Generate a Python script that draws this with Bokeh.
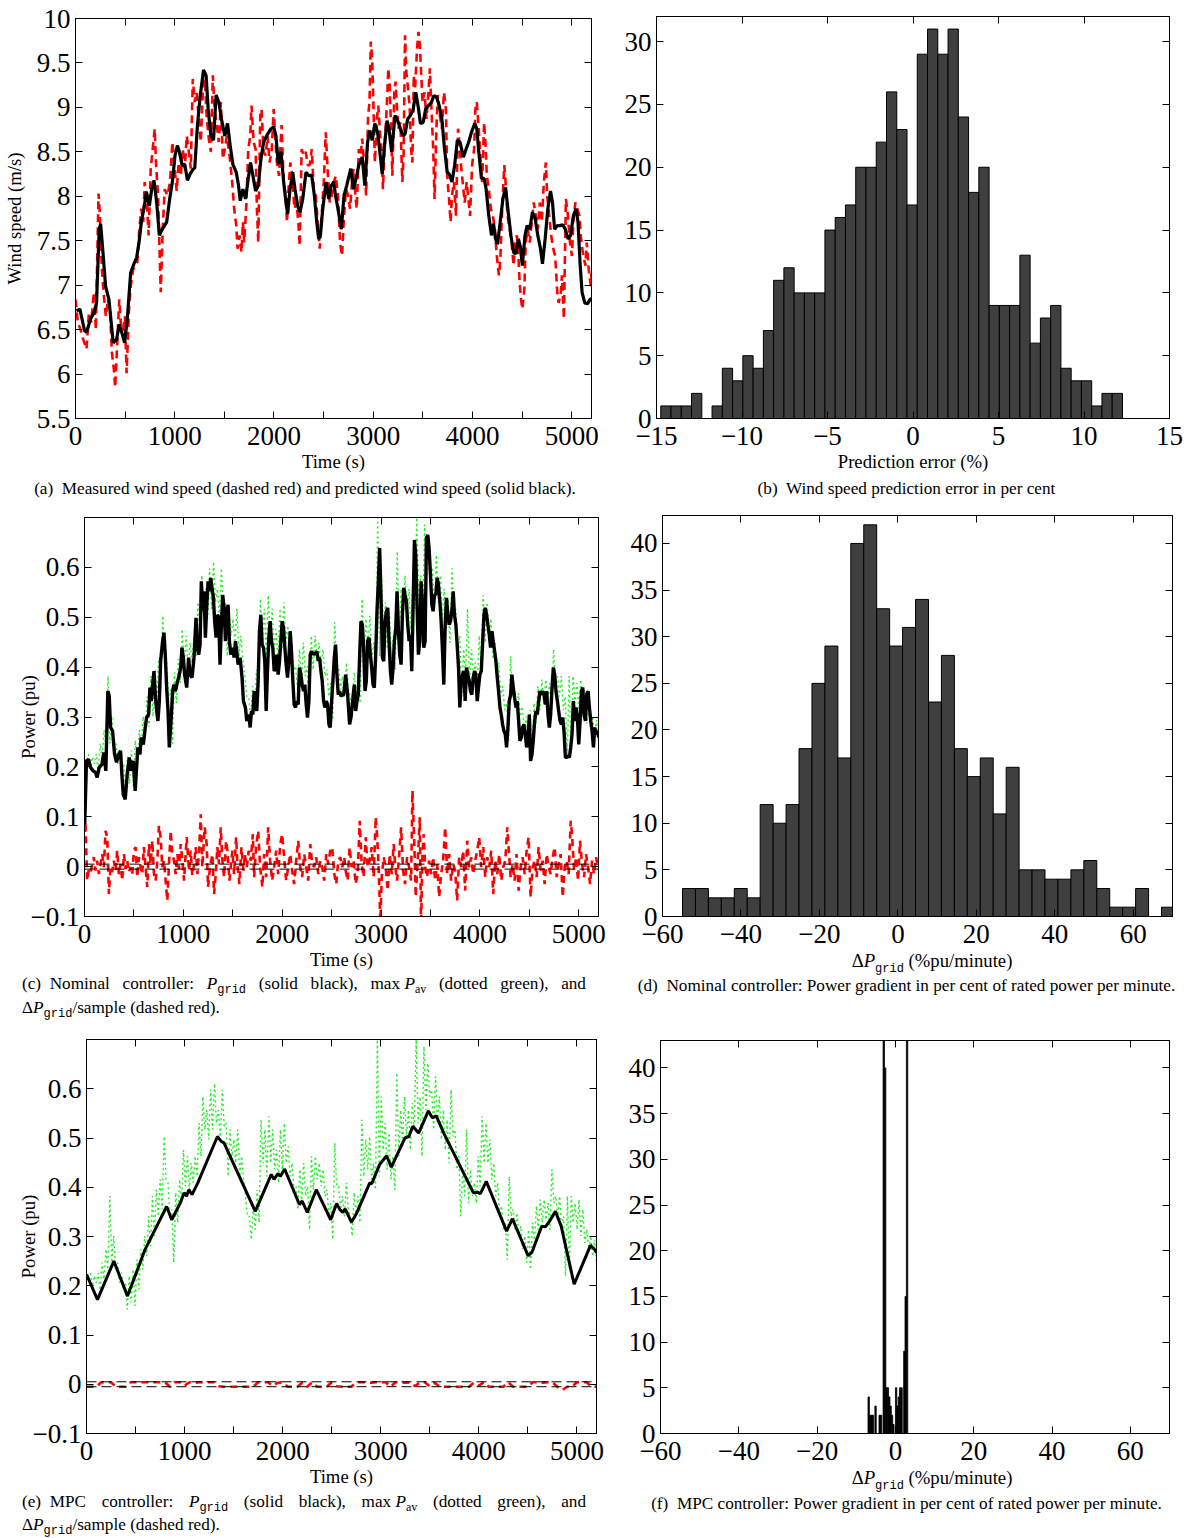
import numpy as np
from bokeh.plotting import figure
from bokeh.layouts import column, row
from bokeh.models import (FixedTicker, LinearAxis, CustomJSTickFormatter, Div, Range1d, Span)
from bokeh.embed import file_html
from bokeh.resources import INLINE

# ---------------- data ----------------
# (a) predicted wind speed (solid black): (time s, m/s)
wind_pred = [
    (10, 6.71), (44, 6.73), (91, 6.49), (111, 6.47), (152, 6.62), (192, 6.71), (212, 6.80), (239, 7.63),
    (253, 7.69), (269, 7.48), (303, 6.99), (337, 6.84), (380, 6.35), (414, 6.39), (441, 6.56), (471, 6.45),
    (495, 6.35), (522, 6.62), (556, 7.14), (589, 7.24), (616, 7.31), (640, 7.48), (667, 7.74), (690, 7.86),
    (714, 8.05), (744, 7.89), (768, 8.08), (791, 8.18), (818, 7.93), (845, 7.56), (875, 7.63), (919, 7.71),
    (949, 7.97), (976, 8.16), (1003, 8.46), (1027, 8.57), (1047, 8.50), (1074, 8.35), (1101, 8.36),
    (1128, 8.18), (1155, 8.25), (1182, 8.30), (1202, 8.32), (1229, 8.80), (1256, 9.12), (1290, 9.42),
    (1316, 9.36), (1337, 8.98), (1364, 8.68), (1391, 8.63), (1417, 9.14), (1444, 9.06), (1471, 8.87),
    (1505, 8.68), (1532, 8.82), (1559, 8.57), (1586, 8.36), (1620, 8.27), (1643, 8.12), (1660, 7.95),
    (1687, 8.08), (1714, 7.97), (1741, 8.20), (1764, 8.38), (1788, 8.23), (1815, 8.06), (1842, 8.12),
    (1869, 8.42), (1896, 8.61), (1936, 8.70), (1970, 8.76), (1997, 8.78), (2020, 8.68), (2044, 8.36),
    (2071, 8.50), (2098, 8.16), (2121, 7.93), (2138, 7.80), (2162, 8.08), (2189, 8.27), (2212, 8.08),
    (2239, 7.89), (2263, 7.82), (2290, 7.97), (2323, 8.27), (2354, 8.23), (2380, 8.24), (2407, 8.01),
    (2431, 7.71), (2451, 7.52), (2468, 7.56), (2492, 7.86), (2525, 8.16), (2552, 7.97), (2576, 8.12),
    (2603, 8.16), (2620, 8.01), (2645, 7.86), (2679, 7.63), (2706, 8.01), (2733, 8.12), (2774, 8.31),
    (2801, 8.08), (2828, 8.20), (2855, 8.35), (2889, 8.44), (2916, 8.12), (2943, 8.61), (2966, 8.74),
    (2990, 8.63), (3017, 8.82), (3044, 8.72), (3071, 8.46), (3091, 8.25), (3111, 8.53), (3139, 8.85),
    (3159, 8.76), (3186, 8.50), (3220, 8.91), (3247, 8.85), (3274, 8.76), (3301, 8.68), (3321, 8.70),
    (3348, 8.87), (3375, 8.91), (3402, 8.97), (3429, 9.17), (3456, 8.99), (3476, 8.82), (3503, 8.83),
    (3530, 8.99), (3557, 9.02), (3584, 9.05), (3611, 9.13), (3638, 9.12), (3665, 9.02), (3692, 8.87),
    (3719, 8.53), (3746, 8.27), (3767, 8.25), (3794, 8.16), (3821, 8.35), (3848, 8.63), (3875, 8.61),
    (3909, 8.44), (3936, 8.53), (3963, 8.61), (3990, 8.72), (4024, 8.82), (4044, 8.76), (4064, 8.50),
    (4091, 8.20), (4118, 8.20), (4138, 8.08), (4165, 7.78), (4192, 7.56), (4213, 7.69), (4233, 7.52),
    (4253, 7.46), (4280, 7.71), (4307, 7.97), (4334, 8.10), (4361, 7.82), (4388, 7.56), (4415, 7.37),
    (4436, 7.35), (4463, 7.52), (4483, 7.43), (4503, 7.22), (4530, 7.56), (4551, 7.67), (4578, 7.63),
    (4605, 7.82), (4632, 7.75), (4659, 7.56), (4686, 7.41), (4706, 7.24), (4733, 7.52), (4760, 7.86),
    (4787, 8.06), (4807, 7.93), (4828, 7.63), (4855, 7.67), (4882, 7.67), (4909, 7.68), (4936, 7.63),
    (4963, 7.52), (4990, 7.56), (5017, 7.78), (5044, 7.86), (5064, 7.71), (5084, 7.26), (5105, 6.92),
    (5132, 6.80), (5159, 6.79), (5186, 6.84), (5200, 6.85)]

# (a) measured wind speed (dashed red)
wind_meas = [
    (0, 6.84), (24, 6.58), (51, 6.50), (78, 6.39), (111, 6.28), (135, 6.69), (159, 6.58), (185, 6.92),
    (205, 6.50), (232, 8.03), (246, 7.78), (266, 7.18), (286, 6.88), (306, 6.65), (327, 6.84), (347, 6.73),
    (367, 6.24), (387, 6.05), (400, 5.85), (421, 6.35), (441, 6.84), (461, 6.50), (481, 6.50), (498, 6.65),
    (515, 6.01), (539, 6.73), (556, 6.99), (582, 7.18), (606, 7.22), (623, 7.26), (643, 7.63), (663, 7.86),
    (683, 7.71), (697, 8.16), (717, 7.97), (737, 7.56), (758, 8.31), (778, 8.53), (798, 8.76), (811, 8.38),
    (832, 8.01), (845, 7.48), (859, 6.92), (879, 7.63), (899, 8.08), (926, 8.01), (953, 8.16), (976, 8.61),
    (1000, 8.31), (1020, 8.06), (1040, 8.38), (1061, 8.23), (1081, 8.53), (1101, 8.31), (1121, 8.68),
    (1142, 8.50), (1162, 8.31), (1182, 9.32), (1202, 9.06), (1222, 9.17), (1242, 8.87), (1263, 8.61),
    (1283, 9.17), (1303, 9.32), (1323, 8.87), (1343, 8.65), (1364, 8.50), (1384, 9.36), (1404, 8.95),
    (1424, 8.80), (1444, 8.61), (1465, 9.06), (1485, 8.42), (1505, 8.53), (1525, 8.68), (1552, 8.46),
    (1579, 8.16), (1599, 7.86), (1620, 7.67), (1633, 7.41), (1653, 7.56), (1673, 7.37), (1687, 7.71),
    (1700, 7.48), (1721, 7.89), (1741, 8.53), (1761, 8.68), (1774, 9.02), (1795, 8.61), (1815, 8.53),
    (1828, 7.86), (1842, 7.48), (1862, 8.91), (1875, 8.98), (1896, 8.50), (1916, 8.46), (1936, 8.68),
    (1956, 8.38), (1976, 8.50), (1997, 8.98), (2010, 8.72), (2030, 8.38), (2051, 8.23), (2064, 8.53),
    (2077, 8.80), (2098, 8.16), (2118, 8.01), (2131, 7.71), (2145, 8.05), (2165, 8.38), (2185, 8.23),
    (2205, 7.86), (2226, 7.93), (2246, 7.71), (2259, 7.44), (2279, 8.53), (2300, 8.46), (2320, 8.50),
    (2340, 8.35), (2360, 8.35), (2381, 8.53), (2401, 8.08), (2421, 8.01), (2441, 7.71), (2461, 7.41),
    (2481, 7.78), (2502, 8.16), (2522, 8.72), (2542, 8.27), (2562, 7.93), (2583, 8.01), (2603, 8.16),
    (2623, 8.23), (2645, 8.01), (2666, 7.48), (2686, 7.33), (2706, 7.78), (2726, 8.08), (2747, 8.01),
    (2767, 7.86), (2787, 8.16), (2801, 8.31), (2821, 8.01), (2834, 7.86), (2855, 8.53), (2868, 8.38),
    (2889, 8.65), (2909, 8.35), (2929, 8.01), (2949, 8.91), (2963, 9.06), (2976, 9.74), (2990, 9.55),
    (3003, 8.99), (3017, 8.38), (3037, 8.87), (3051, 9.02), (3071, 8.68), (3084, 8.53), (3098, 8.08),
    (3118, 8.61), (3139, 9.06), (3152, 9.44), (3166, 9.25), (3179, 8.80), (3193, 8.23), (3213, 9.17),
    (3226, 9.29), (3240, 8.99), (3253, 8.76), (3274, 8.83), (3294, 8.16), (3307, 8.50), (3321, 9.81),
    (3334, 9.40), (3355, 9.17), (3368, 8.99), (3382, 8.53), (3395, 8.38), (3409, 9.36), (3422, 9.21),
    (3442, 9.66), (3456, 9.85), (3470, 9.70), (3483, 9.40), (3497, 9.06), (3517, 9.17), (3537, 8.87),
    (3557, 9.17), (3571, 9.44), (3584, 9.06), (3605, 8.53), (3618, 7.97), (3638, 8.80), (3652, 9.14),
    (3672, 8.91), (3692, 8.76), (3713, 9.17), (3733, 8.98), (3746, 8.23), (3767, 7.93), (3780, 7.71),
    (3794, 8.01), (3814, 8.16), (3834, 7.78), (3855, 8.76), (3868, 8.61), (3888, 8.31), (3909, 8.08),
    (3922, 7.93), (3942, 8.16), (3963, 7.93), (3976, 7.78), (3997, 8.35), (4017, 8.53), (4030, 8.98),
    (4044, 9.06), (4064, 8.76), (4084, 8.35), (4098, 8.16), (4118, 8.83), (4131, 8.61), (4145, 8.23),
    (4165, 8.08), (4186, 7.86), (4206, 7.78), (4226, 7.63), (4246, 7.33), (4267, 7.11), (4280, 7.26),
    (4300, 7.86), (4321, 8.35), (4334, 8.16), (4354, 7.78), (4375, 7.63), (4395, 7.48), (4415, 7.22),
    (4429, 7.48), (4449, 7.56), (4463, 7.33), (4476, 7.03), (4490, 6.84), (4503, 6.73), (4523, 6.95),
    (4537, 7.48), (4557, 7.63), (4578, 7.48), (4598, 7.71), (4618, 7.93), (4639, 7.78), (4659, 7.63),
    (4679, 7.93), (4699, 7.71), (4720, 8.16), (4740, 8.38), (4753, 8.01), (4774, 7.78), (4794, 7.56),
    (4814, 7.41), (4834, 7.33), (4855, 6.92), (4868, 6.80), (4888, 6.88), (4902, 7.11), (4922, 6.62),
    (4942, 7.97), (4963, 7.78), (4983, 7.48), (5003, 7.33), (5017, 7.71), (5037, 7.93), (5057, 7.86),
    (5078, 7.78), (5098, 7.48), (5118, 7.33), (5139, 7.22), (5152, 7.48), (5172, 7.18), (5193, 6.99),
    (5200, 7.14)]

# (b) prediction error histogram
err_bin_start = -14.75
err_bin_width = 0.6
err_counts = [1, 1, 1, 2, 0, 1, 4, 3, 5, 4, 7, 11, 12, 10, 10, 10, 15, 16, 17, 20, 20, 22, 26, 23, 17,
              29, 31, 29, 31, 24, 18, 20, 9, 9, 9, 13, 6, 8, 9, 4, 3, 3, 1, 2, 2]

# (c) nominal controller P_grid (solid black)
pgrid_nom = [
    (0, 0.07), (20, 0.212), (41, 0.215), (61, 0.199), (88, 0.192), (111, 0.189), (128, 0.179), (149, 0.199),
    (176, 0.205), (196, 0.229), (216, 0.192), (236, 0.352), (250, 0.342), (264, 0.279), (284, 0.272),
    (304, 0.225), (324, 0.209), (345, 0.225), (365, 0.232), (378, 0.185), (392, 0.145), (412, 0.135),
    (432, 0.185), (453, 0.219), (473, 0.192), (493, 0.212), (513, 0.152), (527, 0.199), (540, 0.239),
    (561, 0.225), (574, 0.259), (595, 0.245), (615, 0.279), (628, 0.299), (649, 0.305), (662, 0.359),
    (676, 0.332), (689, 0.365), (703, 0.392), (716, 0.345), (730, 0.312), (743, 0.292), (757, 0.332),
    (770, 0.412), (790, 0.452), (804, 0.469), (817, 0.425), (831, 0.359), (845, 0.312), (858, 0.239),
    (872, 0.279), (892, 0.352), (905, 0.365), (919, 0.352), (939, 0.369), (959, 0.385), (973, 0.399),
    (986, 0.439), (1000, 0.419), (1013, 0.385), (1034, 0.359), (1054, 0.419), (1067, 0.385), (1088, 0.379),
    (1108, 0.419), (1128, 0.499), (1142, 0.439), (1155, 0.425), (1169, 0.445), (1182, 0.572), (1196, 0.512),
    (1209, 0.552), (1223, 0.459), (1236, 0.519), (1250, 0.572), (1263, 0.552), (1277, 0.579), (1290, 0.559),
    (1304, 0.539), (1317, 0.492), (1331, 0.459), (1344, 0.505), (1358, 0.499), (1371, 0.405), (1385, 0.485),
    (1398, 0.545), (1412, 0.519), (1426, 0.452), (1439, 0.512), (1453, 0.525), (1466, 0.452), (1480, 0.425),
    (1500, 0.439), (1513, 0.419), (1527, 0.452), (1540, 0.432), (1554, 0.405), (1574, 0.419), (1594, 0.379),
    (1608, 0.332), (1628, 0.319), (1642, 0.292), (1662, 0.305), (1676, 0.279), (1689, 0.312), (1703, 0.305),
    (1716, 0.352), (1730, 0.339), (1743, 0.312), (1757, 0.372), (1770, 0.472), (1784, 0.505), (1797, 0.445),
    (1811, 0.439), (1824, 0.412), (1838, 0.312), (1851, 0.392), (1865, 0.459), (1878, 0.492), (1892, 0.452),
    (1905, 0.439), (1919, 0.392), (1932, 0.399), (1946, 0.425), (1959, 0.385), (1973, 0.412), (1986, 0.452),
    (2000, 0.492), (2013, 0.479), (2027, 0.439), (2040, 0.405), (2054, 0.379), (2067, 0.412), (2081, 0.472),
    (2094, 0.432), (2108, 0.372), (2121, 0.325), (2135, 0.319), (2148, 0.332), (2162, 0.325), (2175, 0.399),
    (2189, 0.385), (2202, 0.365), (2216, 0.352), (2229, 0.365), (2243, 0.325), (2256, 0.299), (2270, 0.332),
    (2284, 0.425), (2297, 0.432), (2311, 0.425), (2324, 0.429), (2338, 0.425), (2351, 0.432), (2365, 0.412),
    (2378, 0.419), (2392, 0.392), (2405, 0.372), (2419, 0.332), (2432, 0.319), (2446, 0.332), (2459, 0.325),
    (2473, 0.285), (2486, 0.279), (2500, 0.332), (2513, 0.372), (2527, 0.419), (2540, 0.445), (2554, 0.385),
    (2567, 0.345), (2581, 0.352), (2594, 0.342), (2622, 0.345), (2642, 0.385), (2662, 0.345), (2682, 0.285),
    (2696, 0.299), (2716, 0.339), (2730, 0.365), (2743, 0.312), (2757, 0.332), (2770, 0.345), (2784, 0.425),
    (2797, 0.492), (2811, 0.485), (2824, 0.439), (2838, 0.352), (2851, 0.372), (2865, 0.452), (2878, 0.459),
    (2892, 0.425), (2905, 0.399), (2919, 0.365), (2932, 0.359), (2946, 0.425), (2959, 0.512), (2973, 0.572),
    (2986, 0.639), (3000, 0.539), (3014, 0.419), (3027, 0.412), (3041, 0.492), (3054, 0.512), (3068, 0.519),
    (3081, 0.452), (3095, 0.392), (3108, 0.365), (3122, 0.399), (3135, 0.452), (3149, 0.479), (3162, 0.552),
    (3176, 0.472), (3189, 0.425), (3203, 0.405), (3216, 0.505), (3230, 0.559), (3243, 0.545), (3257, 0.532),
    (3270, 0.485), (3284, 0.452), (3297, 0.465), (3311, 0.392), (3324, 0.519), (3338, 0.655), (3351, 0.625),
    (3365, 0.519), (3378, 0.425), (3392, 0.452), (3405, 0.572), (3419, 0.532), (3432, 0.439), (3446, 0.452),
    (3459, 0.659), (3473, 0.665), (3486, 0.639), (3500, 0.585), (3514, 0.525), (3527, 0.512), (3541, 0.545),
    (3554, 0.545), (3568, 0.579), (3581, 0.565), (3595, 0.532), (3608, 0.492), (3622, 0.432), (3635, 0.365),
    (3649, 0.485), (3662, 0.539), (3676, 0.505), (3689, 0.485), (3703, 0.492), (3716, 0.512), (3730, 0.552),
    (3743, 0.505), (3757, 0.485), (3770, 0.445), (3784, 0.399), (3797, 0.319), (3811, 0.372), (3824, 0.385),
    (3838, 0.392), (3851, 0.332), (3865, 0.399), (3878, 0.385), (3892, 0.372), (3905, 0.352), (3919, 0.345),
    (3932, 0.379), (3946, 0.392), (3959, 0.385), (3973, 0.332), (3986, 0.359), (4000, 0.385), (4014, 0.392),
    (4027, 0.445), (4041, 0.505), (4054, 0.519), (4068, 0.505), (4081, 0.485), (4095, 0.465), (4108, 0.439),
    (4122, 0.472), (4135, 0.452), (4149, 0.432), (4162, 0.412), (4176, 0.379), (4189, 0.352), (4203, 0.319),
    (4216, 0.305), (4230, 0.285), (4243, 0.272), (4257, 0.265), (4270, 0.239), (4284, 0.279), (4297, 0.332),
    (4311, 0.345), (4324, 0.385), (4338, 0.359), (4351, 0.339), (4365, 0.319), (4378, 0.332), (4392, 0.292),
    (4405, 0.252), (4419, 0.259), (4432, 0.279), (4446, 0.285), (4459, 0.265), (4473, 0.239), (4486, 0.252),
    (4500, 0.305), (4513, 0.212), (4527, 0.225), (4540, 0.252), (4554, 0.292), (4568, 0.312), (4581, 0.305),
    (4595, 0.332), (4608, 0.352), (4622, 0.345), (4635, 0.352), (4649, 0.345), (4662, 0.325), (4676, 0.352),
    (4689, 0.305), (4703, 0.279), (4716, 0.305), (4730, 0.359), (4743, 0.399), (4757, 0.385), (4770, 0.352),
    (4784, 0.332), (4797, 0.312), (4811, 0.292), (4824, 0.285), (4838, 0.299), (4851, 0.272), (4865, 0.219),
    (4878, 0.219), (4892, 0.222), (4905, 0.219), (4919, 0.239), (4932, 0.265), (4946, 0.332), (4959, 0.292),
    (4973, 0.319), (4986, 0.299), (5000, 0.245), (5014, 0.292), (5027, 0.352), (5041, 0.359), (5054, 0.305),
    (5068, 0.292), (5081, 0.345), (5095, 0.352), (5108, 0.319), (5122, 0.292), (5135, 0.272), (5149, 0.239),
    (5162, 0.279), (5176, 0.265), (5189, 0.272), (5203, 0.259)]

# max P_av (dotted green), same in (c) and (e): successive samples, 40 s .. 5200 s
pav_max = [
    0.226, 0.199, 0.220, 0.206, 0.226, 0.186, 0.247, 0.213, 0.274, 0.233, 0.382, 0.247, 0.301, 0.233,
    0.247, 0.206, 0.226, 0.193, 0.206, 0.152, 0.220, 0.166, 0.233, 0.159, 0.253, 0.193, 0.274, 0.233,
    0.301, 0.260, 0.341, 0.280, 0.382, 0.301, 0.395, 0.341, 0.416, 0.355, 0.503, 0.416, 0.409, 0.341,
    0.355, 0.247, 0.389, 0.328, 0.416, 0.368, 0.476, 0.402, 0.463, 0.395, 0.449, 0.409, 0.463, 0.422,
    0.530, 0.463, 0.584, 0.517, 0.557, 0.497, 0.598, 0.517, 0.611, 0.530, 0.557, 0.497, 0.598, 0.524,
    0.530, 0.422, 0.517, 0.463, 0.497, 0.449, 0.517, 0.422, 0.463, 0.416, 0.382, 0.341, 0.341, 0.294,
    0.362, 0.314, 0.395, 0.328, 0.537, 0.449, 0.517, 0.422, 0.544, 0.449, 0.517, 0.436, 0.476, 0.409,
    0.517, 0.436, 0.530, 0.449, 0.483, 0.422, 0.449, 0.395, 0.402, 0.355, 0.436, 0.368, 0.449, 0.382,
    0.402, 0.314, 0.463, 0.395, 0.463, 0.416, 0.449, 0.402, 0.436, 0.382, 0.395, 0.341, 0.368, 0.294,
    0.490, 0.402, 0.402, 0.355, 0.382, 0.341, 0.409, 0.355, 0.341, 0.301, 0.389, 0.341, 0.382, 0.328,
    0.537, 0.422, 0.497, 0.436, 0.503, 0.416, 0.449, 0.395, 0.700, 0.422, 0.584, 0.476, 0.530, 0.436,
    0.510, 0.416, 0.463, 0.395, 0.632, 0.463, 0.557, 0.490, 0.584, 0.503, 0.557, 0.476, 0.571, 0.517,
    0.700, 0.530, 0.584, 0.463, 0.686, 0.557, 0.652, 0.584, 0.598, 0.517, 0.625, 0.530, 0.584, 0.497,
    0.557, 0.476, 0.537, 0.449, 0.598, 0.503, 0.517, 0.436, 0.463, 0.341, 0.436, 0.382, 0.517, 0.368,
    0.436, 0.382, 0.409, 0.368, 0.463, 0.402, 0.544, 0.449, 0.530, 0.449, 0.497, 0.416, 0.449, 0.382,
    0.409, 0.341, 0.362, 0.314, 0.328, 0.253, 0.422, 0.341, 0.355, 0.314, 0.348, 0.301, 0.321, 0.274,
    0.301, 0.247, 0.314, 0.233, 0.328, 0.287, 0.362, 0.314, 0.375, 0.328, 0.375, 0.334, 0.368, 0.314,
    0.436, 0.368, 0.382, 0.341, 0.382, 0.314, 0.341, 0.220, 0.382, 0.233, 0.382, 0.328, 0.368, 0.314,
    0.375, 0.301, 0.355, 0.287, 0.314, 0.274, 0.301, 0.260, 0.294, 0.247]

# (c) Delta P_grid per sample (dashed red)
dpgrid_nom = [
    (10, 0.085), (27, -0.028), (44, -0.005), (61, -0.011), (95, 0.019), (111, -0.008), (128, 0.012),
    (145, -0.015), (179, 0.025), (196, -0.001), (213, 0.072), (230, 0.059), (247, -0.055), (263, -0.001),
    (280, -0.011), (297, 0.012), (314, -0.008), (331, 0.032), (348, -0.015), (365, 0.005), (382, -0.028),
    (399, 0.025), (416, -0.005), (432, 0.012), (449, -0.011), (466, -0.001), (483, -0.015), (500, 0.032),
    (517, 0.039), (534, -0.021), (551, 0.019), (568, -0.001), (584, -0.015), (601, 0.039), (618, -0.001),
    (635, -0.041), (652, 0.045), (669, 0.005), (686, 0.052), (703, -0.015), (720, -0.028), (736, 0.009),
    (753, 0.082), (770, 0.059), (787, -0.001), (804, 0.012), (821, -0.028), (838, -0.068), (855, 0.005),
    (872, 0.072), (888, 0.025), (905, 0.012), (922, -0.015), (939, 0.025), (956, -0.005), (973, 0.045),
    (990, 0.012), (1007, -0.028), (1034, 0.059), (1057, -0.008), (1074, 0.032), (1091, -0.018),
    (1108, 0.005), (1125, 0.039), (1142, -0.015), (1159, 0.032), (1176, 0.105), (1192, -0.001),
    (1216, 0.079), (1236, 0.045), (1250, -0.041), (1270, -0.001), (1294, 0.025), (1311, -0.055),
    (1328, -0.015), (1344, 0.039), (1361, 0.005), (1378, 0.079), (1395, 0.012), (1412, -0.021),
    (1432, 0.052), (1446, 0.032), (1466, -0.028), (1480, -0.001), (1496, 0.032), (1513, -0.015),
    (1534, 0.059), (1547, 0.005), (1567, -0.035), (1588, 0.039), (1608, -0.008), (1621, 0.025),
    (1642, -0.001), (1662, 0.032), (1682, 0.012), (1703, 0.065), (1716, -0.021), (1736, 0.039),
    (1757, 0.072), (1777, -0.001), (1800, -0.041), (1817, 0.025), (1838, -0.021), (1858, 0.079),
    (1878, 0.012), (1898, -0.028), (1919, -0.001), (1939, 0.032), (1959, -0.015), (1980, 0.045),
    (2000, 0.065), (2020, 0.019), (2040, -0.028), (2061, -0.001), (2081, 0.025), (2101, -0.008),
    (2121, -0.035), (2142, 0.012), (2162, 0.052), (2182, -0.001), (2202, -0.021), (2223, 0.025),
    (2243, -0.001), (2263, -0.028), (2284, 0.045), (2304, 0.005), (2324, -0.001), (2344, 0.019),
    (2365, -0.015), (2385, 0.012), (2405, -0.001), (2425, -0.028), (2446, 0.025), (2466, 0.005),
    (2486, 0.032), (2506, 0.039), (2527, -0.015), (2547, -0.035), (2567, 0.012), (2588, 0.019),
    (2608, -0.001), (2628, 0.019), (2642, -0.008), (2662, -0.028), (2682, 0.039), (2703, -0.001),
    (2723, 0.012), (2743, -0.035), (2764, -0.015), (2784, 0.092), (2804, 0.005), (2824, -0.021),
    (2845, 0.059), (2865, -0.001), (2885, 0.012), (2905, 0.039), (2926, -0.021), (2946, 0.099),
    (2959, 0.065), (2973, 0.012), (2993, -0.11), (3007, -0.021), (3027, 0.019), (3047, -0.001),
    (3068, -0.048), (3088, 0.025), (3108, -0.015), (3128, 0.045), (3142, 0.005), (3162, -0.028),
    (3182, 0.019), (3203, 0.079), (3223, -0.008), (3243, -0.035), (3263, 0.019), (3284, -0.001),
    (3304, -0.028), (3318, 0.152), (3338, 0.039), (3351, -0.061), (3365, -0.008), (3378, 0.039),
    (3392, 0.099), (3405, -0.12), (3419, 0.025), (3432, 0.065), (3446, -0.001), (3466, -0.021),
    (3486, 0.012), (3507, -0.015), (3527, 0.019), (3547, -0.028), (3568, 0.005), (3588, -0.061),
    (3608, -0.015), (3628, 0.012), (3649, 0.079), (3669, -0.015), (3689, 0.025), (3709, -0.028),
    (3730, 0.005), (3750, -0.008), (3770, -0.068), (3790, 0.019), (3811, -0.001), (3831, 0.032),
    (3851, -0.048), (3872, 0.052), (3892, -0.001), (3912, 0.019), (3932, -0.015), (3953, 0.012),
    (3973, 0.032), (3993, 0.059), (4013, -0.001), (4034, 0.039), (4054, -0.021), (4074, 0.019),
    (4094, -0.001), (4115, 0.032), (4135, -0.055), (4155, 0.012), (4176, -0.015), (4196, 0.025),
    (4216, -0.028), (4236, -0.001), (4257, 0.012), (4277, 0.079), (4290, 0.039), (4311, -0.021),
    (4331, 0.005), (4351, -0.028), (4371, 0.025), (4392, -0.048), (4412, -0.001), (4432, 0.019),
    (4453, -0.015), (4473, 0.032), (4493, 0.059), (4513, -0.061), (4534, -0.001), (4554, 0.012),
    (4574, -0.021), (4594, 0.039), (4615, -0.008), (4635, 0.012), (4655, -0.035), (4676, 0.025),
    (4696, -0.001), (4716, -0.015), (4736, 0.019), (4757, 0.039), (4777, -0.021), (4797, 0.005),
    (4817, 0.025), (4838, -0.061), (4858, -0.001), (4878, 0.012), (4898, -0.015), (4919, 0.092),
    (4932, 0.065), (4953, -0.008), (4973, 0.019), (4993, -0.028), (5013, 0.052), (5034, 0.005),
    (5054, -0.021), (5074, 0.025), (5094, -0.001), (5115, -0.035), (5135, 0.012), (5155, -0.015),
    (5175, 0.019), (5196, -0.001)]

ramp_limits = [0.005, -0.005]

# (d) nominal controller gradient histogram (%pu/minute)
nom_bin_start = -54.9
nom_bin_width = 3.3
nom_counts = [3, 3, 2, 2, 3, 2, 12, 10, 12, 18, 25, 29, 17, 40, 42, 33, 29, 31, 34, 23, 28, 18, 15,
              17, 11, 16, 5, 5, 4, 4, 5, 6, 3, 1, 1, 3, 0, 1]

# (e) MPC controller P_grid (solid black)
pgrid_mpc = [
    (0, 0.223), (112, 0.172), (279, 0.250), (418, 0.179), (598, 0.274), (817, 0.361), (869, 0.334),
    (956, 0.368), (996, 0.389), (1020, 0.382), (1044, 0.395), (1076, 0.385), (1135, 0.409), (1335, 0.503),
    (1374, 0.493), (1402, 0.490), (1721, 0.351), (1884, 0.426), (1912, 0.416), (1952, 0.428), (1976, 0.422),
    (2020, 0.437), (2171, 0.365), (2199, 0.372), (2251, 0.349), (2343, 0.395), (2490, 0.334), (2550, 0.367),
    (2582, 0.355), (2614, 0.349), (2637, 0.356), (2701, 0.329), (2749, 0.345), (2888, 0.409), (2908, 0.407),
    (2988, 0.446), (3060, 0.464), (3108, 0.441), (3247, 0.500), (3287, 0.503), (3327, 0.524), (3386, 0.510),
    (3486, 0.555), (3526, 0.541), (3566, 0.545), (3645, 0.509), (3944, 0.389), (3984, 0.390), (4016, 0.387),
    (4076, 0.412), (4283, 0.311), (4343, 0.336), (4502, 0.261), (4542, 0.268), (4641, 0.321), (4681, 0.320),
    (4721, 0.331), (4781, 0.351), (4840, 0.321), (4972, 0.203), (5139, 0.282), (5179, 0.274), (5200, 0.267)]

# (e) Delta P_grid per sample (dashed red), every 50 s from 0 s
dpgrid_mpc = [
    -0.005, -0.005, -0.005, 0.004, 0.004, 0.004, -0.005, -0.005, -0.005, 0.004, 0.004, 0.004, 0.004,
    0.004, 0.004, 0.004, 0.004, -0.005, 0.004, 0.004, -0.003, 0.004, 0.003, 0.004, 0.004, 0.004, 0.004,
    -0.004, -0.005, -0.005, -0.005, -0.005, -0.005, -0.005, -0.005, 0.004, 0.004, 0.004, -0.003, 0.003,
    0.004, -0.005, -0.005, -0.005, 0.003, -0.005, 0.004, -0.005, -0.005, -0.005, 0.004, -0.004, -0.005,
    -0.005, -0.005, 0.004, 0.004, 0.004, 0.003, 0.004, 0.004, 0.004, -0.005, 0.004, 0.004, 0.003, 0.004,
    -0.004, 0.004, 0.004, -0.004, 0.003, -0.005, -0.005, -0.005, -0.005, -0.005, -0.005, -0.005, 0.003,
    -0.003, 0.004, -0.005, -0.005, -0.005, -0.005, 0.004, -0.005, -0.005, -0.005, -0.005, 0.004, 0.004,
    0.003, 0.004, 0.004, -0.005, -0.012, -0.005, -0.005, 0.004, 0.004, 0.004, -0.005, -0.005]

# (f) MPC controller gradient histogram (%pu/minute)
mpc_bin_start = -7.0
mpc_bin_width = 0.35
mpc_counts = [4, 2, 2, 2, 0, 3, 0, 0, 2, 2, 0, 190, 40, 5, 5, 4, 3, 2, 1, 0, 5, 3, 4, 5, 5, 0, 9, 15, 180]

# ---------------- styling helpers ----------------
SERIF = "Liberation Serif"
TICK_FS = "27px"
LABEL_FS = "18.7px"

TIME_FMT = "return (Math.abs(tick % 1000) < 1e-9) ? tick.toFixed(0) : '';"
SIGNED_INT_FMT = "return tick < 0 ? '\\u2212' + Math.abs(tick).toFixed(0) : tick.toFixed(0);"
POWER_FMT = ("if (Math.abs(tick) < 1e-9) return '0';"
             "return tick < 0 ? '\\u2212' + Math.abs(tick).toFixed(1) : tick.toFixed(1);")
WIND_FMT = "return (Math.abs(tick - Math.round(tick)) < 1e-9) ? tick.toFixed(0) : tick.toFixed(1);"
BLANK_FMT = "return '';"


def make_fig(fw, fh, bl, br, bt, bb, xr, yr):
    p = figure(frame_width=fw, frame_height=fh, min_border_left=bl, min_border_right=br,
               min_border_top=bt, min_border_bottom=bb, x_range=Range1d(*xr), y_range=Range1d(*yr),
               output_backend="svg", toolbar_location=None, title=None)
    p.xgrid.visible = False
    p.ygrid.visible = False
    p.outline_line_color = "black"
    p.outline_line_width = 1
    p.outline_line_alpha = 1
    p.background_fill_color = "white"
    p.border_fill_color = "white"
    return p


def style_axes(p, xt, yt, xfmt, yfmt, xlabel=None, ylabel=None, ylabel_standoff=10):
    p.xaxis.ticker = FixedTicker(ticks=xt, minor_ticks=[])
    p.yaxis.ticker = FixedTicker(ticks=yt, minor_ticks=[])
    p.xaxis.formatter = CustomJSTickFormatter(code=xfmt)
    p.yaxis.formatter = CustomJSTickFormatter(code=yfmt)
    for ax in list(p.xaxis) + list(p.yaxis):
        ax.major_tick_in = 7
        ax.major_tick_out = 0
        ax.minor_tick_in = 0
        ax.minor_tick_out = 0
        ax.axis_line_color = "black"
        ax.major_tick_line_color = "black"
        ax.major_label_text_font = SERIF
        ax.major_label_text_font_size = TICK_FS
        ax.major_label_text_color = "black"
        ax.axis_label_text_font = SERIF
        ax.axis_label_text_font_size = LABEL_FS
        ax.axis_label_text_font_style = "normal"
        ax.axis_label_text_color = "black"
    p.xaxis.major_label_standoff = 8
    p.yaxis.major_label_standoff = 5
    p.xaxis.axis_label_standoff = 3
    p.yaxis.axis_label_standoff = ylabel_standoff
    if xlabel:
        p.xaxis.axis_label = xlabel
    if ylabel:
        p.yaxis.axis_label = ylabel
    for loc, ticks in (("above", xt), ("right", yt)):
        ax = LinearAxis(ticker=FixedTicker(ticks=ticks, minor_ticks=[]),
                        formatter=CustomJSTickFormatter(code=BLANK_FMT),
                        major_tick_in=7, major_tick_out=0, minor_tick_in=0, minor_tick_out=0,
                        major_label_standoff=0, major_label_text_font_size="1px",
                        axis_line_color="black", major_tick_line_color="black")
        p.add_layout(ax, loc)


time_ticks = list(range(0, 5001, 500))
power_ticks = [-0.1, 0.0, 0.1, 0.2, 0.3, 0.4, 0.5, 0.6]
grad_ticks = [-60, -40, -20, 0, 20, 40, 60]
count_ticks_40 = [0, 5, 10, 15, 20, 25, 30, 35, 40]

RED = "#ff0000"
GREEN = "#22ee22"

# ---------------- (a) ----------------
pa = make_fig(516, 400, 75, 19, 18, 64, (0, 5200), (5.5, 10))
ta, va = zip(*wind_meas)
pa.line(list(ta), list(va), line_color=RED, line_width=2.6, line_dash="8 5")
tp, vp = zip(*wind_pred)
pa.line(list(tp), list(vp), line_color="black", line_width=3.2)
style_axes(pa, time_ticks, [5.5, 6, 6.5, 7, 7.5, 8, 8.5, 9, 9.5, 10], TIME_FMT, WIND_FMT,
           "Time (s)", "Wind speed (m/s)", ylabel_standoff=9)

# ---------------- (b) ----------------
pb = make_fig(513, 402, 46, 20, 16, 64, (-15, 15), (0, 32))
eb_left = err_bin_start + err_bin_width * np.arange(len(err_counts))
pb.quad(left=eb_left, right=eb_left + err_bin_width, bottom=0, top=err_counts,
        fill_color="#3f3f3f", line_color="black", line_width=1)
style_axes(pb, [-15, -10, -5, 0, 5, 10, 15], [0, 5, 10, 15, 20, 25, 30], SIGNED_INT_FMT,
           SIGNED_INT_FMT, "Prediction error (%)", None)

# ---------------- (c) ----------------
pc = make_fig(514, 399, 84, 12, 17, 64, (0, 5200), (-0.1, 0.7))
green_t = np.linspace(40, 5200, len(pav_max))
pc.line(green_t, pav_max, line_color=GREEN, line_width=1.4, line_dash="2 3")
tc, vc = zip(*pgrid_nom)
pc.line(list(tc), list(vc), line_color="black", line_width=3.4)
td, vd = zip(*dpgrid_nom)
pc.line(list(td), list(vd), line_color=RED, line_width=2.6, line_dash="7 5")
for lim in ramp_limits:
    pc.add_layout(Span(location=lim, dimension="width", line_color="black", line_width=1,
                       line_dash="10 5"))
style_axes(pc, time_ticks, power_ticks, TIME_FMT, POWER_FMT, "Time (s)", "Power (pu)",
           ylabel_standoff=-11)

# ---------------- (d) ----------------
pd_ = make_fig(510, 401, 52, 17, 15, 39, (-60, 70), (0, 43))
nb_left = nom_bin_start + nom_bin_width * np.arange(len(nom_counts))
pd_.quad(left=nb_left, right=nb_left + nom_bin_width, bottom=0, top=nom_counts,
         fill_color="#3f3f3f", line_color="black", line_width=1)
style_axes(pd_, grad_ticks, count_ticks_40, SIGNED_INT_FMT, SIGNED_INT_FMT, None, None)

# ---------------- (e) ----------------
pe = make_fig(510, 394, 86, 14, 19, 64, (0, 5200), (-0.1, 0.7))
pe.line(green_t, pav_max, line_color=GREEN, line_width=1.4, line_dash="2 3")
te, ve = zip(*pgrid_mpc)
pe.line(list(te), list(ve), line_color="black", line_width=3.0)
red_e_t = np.arange(len(dpgrid_mpc)) * 50
pe.line(red_e_t, dpgrid_mpc, line_color=RED, line_width=2.6, line_dash="7 5")
for lim in ramp_limits:
    pe.add_layout(Span(location=lim, dimension="width", line_color="black", line_width=1,
                       line_dash="10 5"))
style_axes(pe, time_ticks, power_ticks, TIME_FMT, POWER_FMT, "Time (s)", "Power (pu)",
           ylabel_standoff=-9)

# ---------------- (f) ----------------
pf = make_fig(509, 393, 50, 20, 20, 39, (-60, 70), (0, 43))
mb_left = mpc_bin_start + mpc_bin_width * np.arange(len(mpc_counts))
pf.quad(left=mb_left, right=mb_left + mpc_bin_width, bottom=0, top=mpc_counts,
        fill_color="black", line_color="black", line_width=0.8)
style_axes(pf, grad_ticks, count_ticks_40, SIGNED_INT_FMT, SIGNED_INT_FMT, None, None)

# ---------------- captions / html axis labels ----------------
BASE = "font-family:'Liberation Serif';color:black;"
CAPFS = "font-size:17.2px;"
SUB = "font-size:12px;line-height:0;"
SUBTT = "font-family:'Liberation Mono';font-size:12px;line-height:0;"
pgrid_html = "<i>P</i><sub style=\"%s\">grid</sub>" % SUBTT
pav_html = "<i>P</i><sub style=\"%s\">av</sub>" % SUB


def cap_single(text, w, h, lh, pad_left=0):
    html = ("<div style=\"%s%sbox-sizing:border-box;width:%dpx;padding-left:%dpx;text-align:center;"
            "line-height:%dpx;white-space:nowrap\">%s</div>") % (BASE, CAPFS, w, pad_left, lh, text)
    return Div(text=html, width=w, height=h, margin=(0, 0, 0, 0))


def cap_double(line1, line2, w, h, pad_left, inner_w, lh1, gap):
    html = ("<div style=\"%s%spadding-left:%dpx;width:%dpx\">"
            "<div style=\"white-space:nowrap;line-height:%dpx;display:flex;justify-content:space-between\">%s</div>"
            "<div style=\"text-align:left;line-height:22px;margin-top:%dpx\">%s</div></div>") % (
        BASE, CAPFS, pad_left, inner_w, lh1, line1, gap, line2)
    return Div(text=html, width=w, height=h, margin=(0, 0, 0, 0))


def words(*ws):
    return "".join("<span>%s</span>" % w_ for w_ in ws)


def axis_and_caption(caption, w, h, gap):
    html = ("<div style=\"%sbox-sizing:border-box;width:%dpx;padding-left:65px;font-size:18.7px;"
            "text-align:center;line-height:12px;white-space:nowrap\">\u0394%s (%%pu/minute)</div>"
            "<div style=\"%s%sbox-sizing:border-box;width:%dpx;padding-left:14px;text-align:center;"
            "line-height:20px;margin-top:%dpx;white-space:nowrap\">%s</div>") % (
        BASE, w, pgrid_html, BASE, CAPFS, w, gap, caption)
    return Div(text=html, width=w, height=h, margin=(0, 0, 0, 0))


cap_a = cap_single("(a)&nbsp; Measured wind speed (dashed red) and predicted wind speed (solid black).",
                   610, 18, 10)
cap_b = cap_single("(b)&nbsp; Wind speed prediction error in per cent", 579, 18, 10, pad_left=14)
cap_c = cap_double(words("(c)&nbsp; Nominal", "controller:", pgrid_html, "(solid", "black),",
                         "max&nbsp;" + pav_html, "(dotted", "green),", "and"),
                   "\u0394%s/sample (dashed red)." % pgrid_html, 610, 40, 22, 586, 8, 7)
cap_e = cap_double(words("(e)&nbsp; MPC", "controller:", pgrid_html, "(solid", "black),",
                         "max&nbsp;" + pav_html, "(dotted", "green),", "and"),
                   "\u0394%s/sample (dashed red)." % pgrid_html, 610, 41, 22, 586, 10, 6)
dcap = axis_and_caption("(d)&nbsp; Nominal controller: Power gradient in per cent of rated power per minute.",
                        579, 65, 7)
fcap = axis_and_caption("(f)&nbsp; MPC controller: Power gradient in per cent of rated power per minute.",
                        579, 66, 8)

# each figure wrapped in its own row so that frames are not force-aligned across the column
left = column(row(pa), cap_a, row(pc), cap_c, row(pe), cap_e, spacing=0)
right = column(row(pb), cap_b, row(pd_), dcap, row(pf), fcap, spacing=0)
layout = row(left, right, spacing=0)

with open("out.html", "w", encoding="utf-8") as fh:
    fh.write(file_html(layout, INLINE))
